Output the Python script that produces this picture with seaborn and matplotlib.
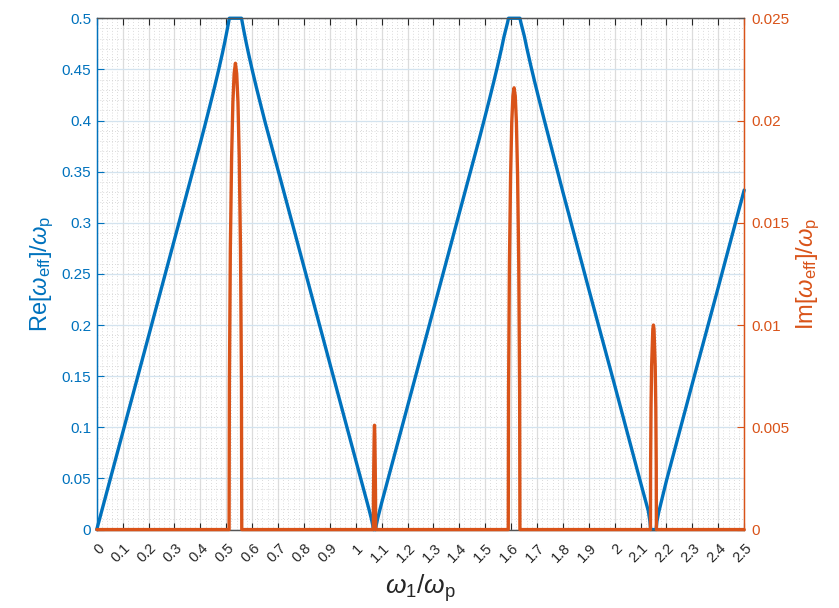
import matplotlib
matplotlib.use("Agg")
import matplotlib.pyplot as plt
import matplotlib.transforms as mtransforms
import seaborn as sns
from matplotlib.ticker import FixedLocator, MultipleLocator

# ---------------- data ----------------
omega_re = [0.0, 0.1, 0.2, 0.3, 0.4, 0.42, 0.44, 0.455, 0.47, 0.485, 0.495, 0.503, 0.508, 0.512,
            0.535, 0.559,
            0.563, 0.568, 0.576, 0.586, 0.601, 0.616, 0.631, 0.651, 0.7, 0.8, 0.9, 1.0, 1.05,
            1.06, 1.066, 1.068,
            1.072, 1.077,
            1.079, 1.085, 1.1, 1.2, 1.3, 1.4, 1.478, 1.498, 1.518, 1.533, 1.548, 1.563, 1.573,
            1.581, 1.586, 1.590,
            1.612, 1.634,
            1.638, 1.643, 1.651, 1.661, 1.676, 1.691, 1.706, 1.726, 1.8, 1.9, 2.0, 2.1,
            2.13, 2.136, 2.139,
            2.149, 2.160,
            2.163, 2.17, 2.2, 2.3, 2.4, 2.5]
re_vals = [0.0, 0.0945, 0.189, 0.2835, 0.378, 0.3975, 0.4175, 0.4328, 0.4487, 0.4655, 0.4775, 0.4878, 0.4945, 0.5,
           0.5, 0.5,
           0.4945, 0.4878, 0.4775, 0.4655, 0.4487, 0.4328, 0.4175, 0.3975, 0.3515, 0.257, 0.1625, 0.068, 0.021,
           0.011, 0.004, 0.0,
           0.0, 0.0,
           0.004, 0.011, 0.026, 0.1205, 0.215, 0.3095, 0.383, 0.4025, 0.4225, 0.4378, 0.4537, 0.4705, 0.4825,
           0.4905, 0.4955, 0.5,
           0.5, 0.5,
           0.4955, 0.4905, 0.4825, 0.4705, 0.4537, 0.4378, 0.4225, 0.4025, 0.33, 0.235, 0.141, 0.046,
           0.018, 0.008, 0.0,
           0.0, 0.0,
           0.008, 0.017, 0.048, 0.143, 0.237, 0.332]

omega_im = [0.0, 0.511, 0.5122, 0.5159, 0.5208, 0.5257, 0.5306, 0.5355,
            0.5404, 0.5453, 0.5502, 0.5551, 0.5588, 0.560,
            1.068, 1.0685, 1.0697, 1.0713, 1.0725, 1.0737, 1.0753, 1.0765, 1.077,
            1.589, 1.5901, 1.5935, 1.598, 1.6025, 1.607, 1.6115,
            1.616, 1.6205, 1.625, 1.6295, 1.6329, 1.634,
            2.138, 2.1386, 2.1403, 2.1426, 2.1472, 2.1495, 2.1518, 2.1564,
            2.1587, 2.1604, 2.161, 2.5]
im_vals = [0.0, 0.0, 0.0071, 0.0137, 0.0182, 0.0209, 0.0223, 0.0228,
           0.0223, 0.0209, 0.0182, 0.0137, 0.0071, 0.0,
           0.0, 0.0016, 0.0031, 0.0046, 0.0051, 0.0046, 0.0031, 0.0016, 0.0,
           0.0, 0.0067, 0.013, 0.0173, 0.0199, 0.0212, 0.0216,
           0.0212, 0.0199, 0.0173, 0.013, 0.0067, 0.0,
           0.0, 0.0031, 0.006, 0.008, 0.0098, 0.0100, 0.0098, 0.008,
           0.006, 0.0031, 0.0, 0.0]

x_ticks = [0.0, 0.1, 0.2, 0.3, 0.4, 0.5, 0.6, 0.7, 0.8, 0.9, 1.0, 1.1, 1.2,
           1.3, 1.4, 1.5, 1.6, 1.7, 1.8, 1.9, 2.0, 2.1, 2.2, 2.3, 2.4, 2.5]
x_tick_labels = ['0', '0.1', '0.2', '0.3', '0.4', '0.5', '0.6', '0.7', '0.8',
                 '0.9', '1', '1.1', '1.2', '1.3', '1.4', '1.5', '1.6', '1.7',
                 '1.8', '1.9', '2', '2.1', '2.2', '2.3', '2.4', '2.5']
left_ticks = [0.0, 0.05, 0.1, 0.15, 0.2, 0.25, 0.3, 0.35, 0.4, 0.45, 0.5]
left_labels = ['0', '0.05', '0.1', '0.15', '0.2', '0.25', '0.3', '0.35',
               '0.4', '0.45', '0.5']
right_ticks = [0.0, 0.005, 0.01, 0.015, 0.02, 0.025]
right_labels = ['0', '0.005', '0.01', '0.015', '0.02', '0.025']

# ---------------- style ----------------
BLUE = '#0072BD'
ORANGE = '#D95319'
DARK = '#262626'

sns.set_theme(style='white')
plt.rcParams['font.family'] = ['Liberation Sans', 'DejaVu Sans']
plt.rcParams['mathtext.fontset'] = 'custom'
plt.rcParams['mathtext.rm'] = 'Liberation Sans'
plt.rcParams['mathtext.it'] = 'Liberation Sans:italic'

fig = plt.figure(figsize=(8.39, 6.08), dpi=100)
ax = fig.add_axes([0.1153, 0.129, 0.7717, 0.841])
ax2 = ax.twinx()

ax.set_xlim(0, 2.5)
ax.set_ylim(0, 0.5)
ax.xaxis.set_major_locator(FixedLocator(x_ticks))
ax.xaxis.set_minor_locator(MultipleLocator(0.02))
ax.yaxis.set_major_locator(FixedLocator(left_ticks))
ax.yaxis.set_minor_locator(MultipleLocator(0.01))
ax.grid(which='major', axis='x', color='#dcdcdc', linewidth=0.9)
ax.grid(which='major', axis='y', color='#d3e3ef', linewidth=0.9)
ax.grid(which='minor', color='#cfcfcf', linewidth=0.6, linestyle=(0, (1, 2.5)))
ax.set_axisbelow(True)

sns.lineplot(x=omega_re, y=re_vals, ax=ax, color=BLUE, linewidth=2.4,
             sort=False, estimator=None, clip_on=False, zorder=3)
sns.lineplot(x=omega_im, y=im_vals, ax=ax2, color=ORANGE, linewidth=2.4,
             sort=False, estimator=None, clip_on=False, zorder=3)
ax2.set_ylim(0, 0.025)
ax2.yaxis.set_major_locator(FixedLocator(right_ticks))
ax2.grid(False)

ax.set_xticklabels(x_tick_labels)
ax.set_yticklabels(left_labels)
ax2.set_yticklabels(right_labels)

ax.tick_params(axis='x', which='major', direction='in', length=5, width=0.8,
               colors=DARK, labelsize=10.5, top=True, bottom=True, pad=12)
ax.tick_params(axis='y', which='major', direction='in', length=5, width=0.8,
               color=BLUE, labelcolor=BLUE, labelsize=11, left=True, pad=4)
ax.tick_params(which='minor', length=0)
ax2.tick_params(axis='y', which='major', direction='in', length=5, width=0.8,
                color=ORANGE, labelcolor=ORANGE, labelsize=11, right=True, pad=5)
ax2.tick_params(which='minor', length=0)

shift = mtransforms.ScaledTranslation(5.5 / 100, 0, fig.dpi_scale_trans)
for lab in ax.get_xticklabels():
    lab.set_rotation(45)
    lab.set_ha('right')
    lab.set_va('center')
    lab.set_rotation_mode('anchor')
    lab.set_transform(lab.get_transform() + shift)

for a in (ax, ax2):
    a.spines['top'].set_color('#555555')
    a.spines['bottom'].set_color('#555555')
    a.spines['left'].set_color(BLUE)
    a.spines['right'].set_color(ORANGE)
    for s in a.spines.values():
        s.set_linewidth(0.9)
        s.set_visible(True)

ax.set_xlabel(r'$\omega_1$/$\omega_{\rm p}$', fontsize=19, color=DARK, labelpad=5)
ax.set_ylabel(r'Re[$\omega_{\rm eff}$]/$\omega_{\rm p}$', fontsize=17,
              color=BLUE, labelpad=4)
ax2.set_ylabel(r'Im[$\omega_{\rm eff}$]/$\omega_{\rm p}$', fontsize=17,
               color=ORANGE, labelpad=4)

fig.savefig('out.png', dpi=100, facecolor='white')
